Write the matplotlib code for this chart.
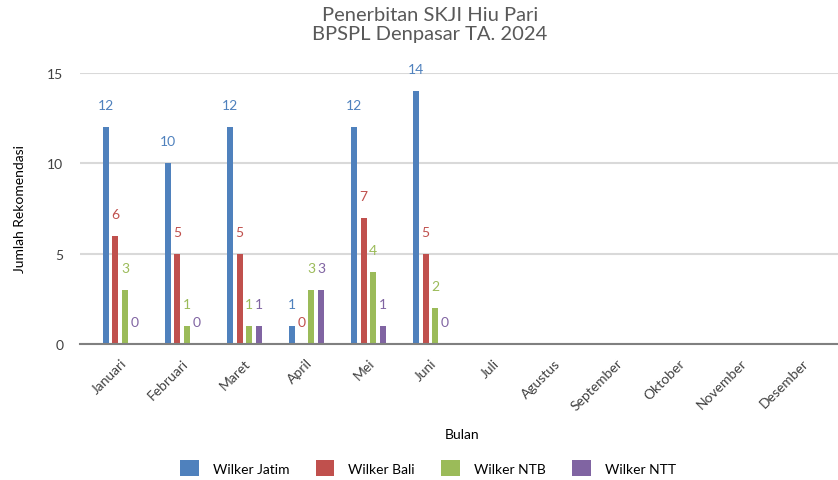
import matplotlib
matplotlib.use("Agg")
import matplotlib.pyplot as plt
import numpy as np

plt.rcParams['font.family'] = ['Lato', 'DejaVu Sans']

# data
bulan = ["Januari", "Februari", "Maret", "April", "Mei", "Juni",
         "Juli", "Agustus", "September", "Oktober", "November", "Desember"]
seri = ["Wilker Jatim", "Wilker Bali", "Wilker NTB", "Wilker NTT"]
jatim = [12, 10, 12, 1, 12, 14]
bali = [6, 5, 5, 0, 7, 5]
ntb = [3, 1, 1, 3, 4, 2]
ntt = [0, 0, 1, 3, 1, 0]

warna = ["#4f81bd", "#c0504d", "#9bbb59", "#8064a2"]

fig = plt.figure(figsize=(8.38, 4.81), dpi=100)
ax = fig.add_axes([80/838, 136/481, 1 - 80/838, 271/481])

x = np.arange(len(bulan))
step = 0.157
width = 0.097
for k, (nama, nilai) in enumerate(zip(seri, [jatim, bali, ntb, ntt])):
    pos = x[:len(nilai)] + (k - 1.5) * step
    bars = ax.bar(pos, nilai, width, color=warna[k], label=nama, zorder=3)
    for b, v in zip(bars, nilai):
        ax.annotate(str(v), (b.get_x() + b.get_width() / 2, v),
                    xytext=(0, 22), textcoords="offset pixels",
                    ha="center", va="center", fontsize=10, color=warna[k])

ax.set_xlim(-0.65, 11.57)
ax.set_ylim(0, 15)
ax.set_yticks([0, 5, 10, 15])
ax.set_xticks(x)
ax.set_xticklabels(bulan, rotation=45, ha="right", va="top",
                   rotation_mode="anchor")
ax.tick_params(axis="x", length=0, pad=9, labelsize=10, labelcolor="#404040")
ax.tick_params(axis="y", length=0, pad=12, labelsize=10, labelcolor="#404040")

ax.grid(axis="y", color="#d9d9d9", linewidth=1.5, zorder=0)
for s in ["top", "right", "left"]:
    ax.spines[s].set_visible(False)
ax.spines["bottom"].set_color("#808080")
ax.spines["bottom"].set_linewidth(1.5)
ax.spines["bottom"].set_zorder(4)

ax.set_ylabel("Jumlah Rekomendasi", fontsize=10, color="black", labelpad=15)
fig.text(462/838, 1 - 435/481, "Bulan", ha="center", va="center",
         fontsize=10, color="black")
fig.text(430/838, 1 - 25/481, "Penerbitan SKJI Hiu Pari\nBPSPL Denpasar TA. 2024",
         ha="center", va="center", fontsize=14.5, color="#595959",
         linespacing=1.1)

fig.legend(loc="center", bbox_to_anchor=(428/838, 1 - 469/481), ncol=4,
           frameon=False, fontsize=10, handlelength=1.35, handleheight=1.3,
           columnspacing=1.9, handletextpad=1.0)

fig.savefig("out.png", dpi=100)
